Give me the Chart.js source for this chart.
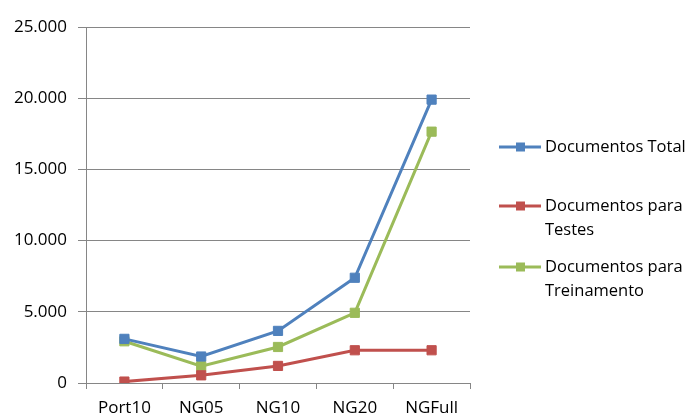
<!DOCTYPE html>
<html>
<head>
<meta charset="utf-8">
<script src="https://cdn.jsdelivr.net/npm/chart.js@4"></script>
<style>
  html, body { margin: 0; padding: 0; background: #fff; }
  #wrap { width: 691px; height: 416px; }
</style>
</head>
<body>
<div id="wrap"><canvas id="c" width="691" height="416"></canvas></div>
<script>
// Corpora on the x axis
const categories = ['Port10', 'NG05', 'NG10', 'NG20', 'NGFull'];

// Document counts per corpus
const docsTotal = [3100, 1860, 3660, 7390, 19900];
const docsTestes = [100, 540, 1200, 2300, 2300];
const docsTreinamento = [2930, 1180, 2530, 4930, 17650];

// Legend text, one entry per series, split into lines
const seriesNames = [
  ['Documentos Total'],
  ['Documentos para', 'Testes'],
  ['Documentos para', 'Treinamento']
];

// Y axis range and step
const yMax = 25000;
const yStep = 5000;

const colors = ['#4F81BD', '#C0504D', '#9BBB59'];
const FONT = '"Open Sans", "Liberation Sans", sans-serif';
const TEXT = '#000000';
const GRID = '#868686';

function fmt(v) {
  return String(v).replace(/\B(?=(\d{3})+(?!\d))/g, '.');
}

function makeSet(name, data, color) {
  return {
    label: name.join(' '),
    data: data,
    borderColor: color,
    backgroundColor: color,
    borderWidth: 3,
    pointStyle: 'rect',
    pointRadius: 6.5,
    pointHoverRadius: 6.5,
    pointBorderWidth: 1,
    pointBorderColor: color,
    pointBackgroundColor: color,
    tension: 0,
    fill: false
  };
}

// Legend drawn at the right of the plot, with multi-line labels
const sideLegend = {
  id: 'sideLegend',
  afterDraw(chart) {
    const ctx = chart.ctx;
    const rows = [147, 206, 267];
    const lineH = 24;
    ctx.save();
    chart.data.datasets.forEach((ds, i) => {
      const y = rows[i];
      ctx.strokeStyle = ds.borderColor;
      ctx.lineWidth = 3;
      ctx.beginPath();
      ctx.moveTo(499, y);
      ctx.lineTo(541, y);
      ctx.stroke();
      ctx.fillStyle = ds.borderColor;
      ctx.fillRect(516, y - 4.5, 9, 9);
      ctx.fillStyle = TEXT;
      ctx.font = '16.5px ' + FONT;
      ctx.textBaseline = 'middle';
      ctx.textAlign = 'left';
      seriesNames[i].forEach((t, k) => ctx.fillText(t, 545, y + k * lineH));
    });
    ctx.restore();
  }
};

new Chart(document.getElementById('c'), {
  type: 'line',
  data: {
    labels: categories,
    datasets: [
      makeSet(seriesNames[0], docsTotal, colors[0]),
      makeSet(seriesNames[1], docsTestes, colors[1]),
      makeSet(seriesNames[2], docsTreinamento, colors[2])
    ]
  },
  options: {
    responsive: false,
    animation: false,
    events: [],
    layout: { padding: { top: 27, right: 221, bottom: 0, left: 0 } },
    plugins: {
      legend: { display: false },
      tooltip: { enabled: false }
    },
    scales: {
      x: {
        offset: true,
        grid: {
          offset: true,
          drawOnChartArea: false,
          drawTicks: true,
          tickLength: 6,
          tickColor: GRID,
          tickWidth: 1
        },
        border: { display: true, color: GRID, width: 1 },
        ticks: {
          color: TEXT,
          font: { family: FONT, size: 17 },
          padding: 9,
          maxRotation: 0
        },
        afterFit(s) { s.height = 33; }
      },
      y: {
        min: 0,
        max: yMax,
        ticks: {
          stepSize: yStep,
          color: TEXT,
          font: { family: FONT, size: 17 },
          padding: 11,
          callback: (v) => fmt(v)
        },
        grid: {
          color: GRID,
          lineWidth: 1,
          tickLength: 8,
          tickColor: GRID
        },
        border: { display: true, color: GRID, width: 1 },
        afterFit(s) { s.width = 86; }
      }
    }
  },
  plugins: [sideLegend]
});
</script>
</body>
</html>
